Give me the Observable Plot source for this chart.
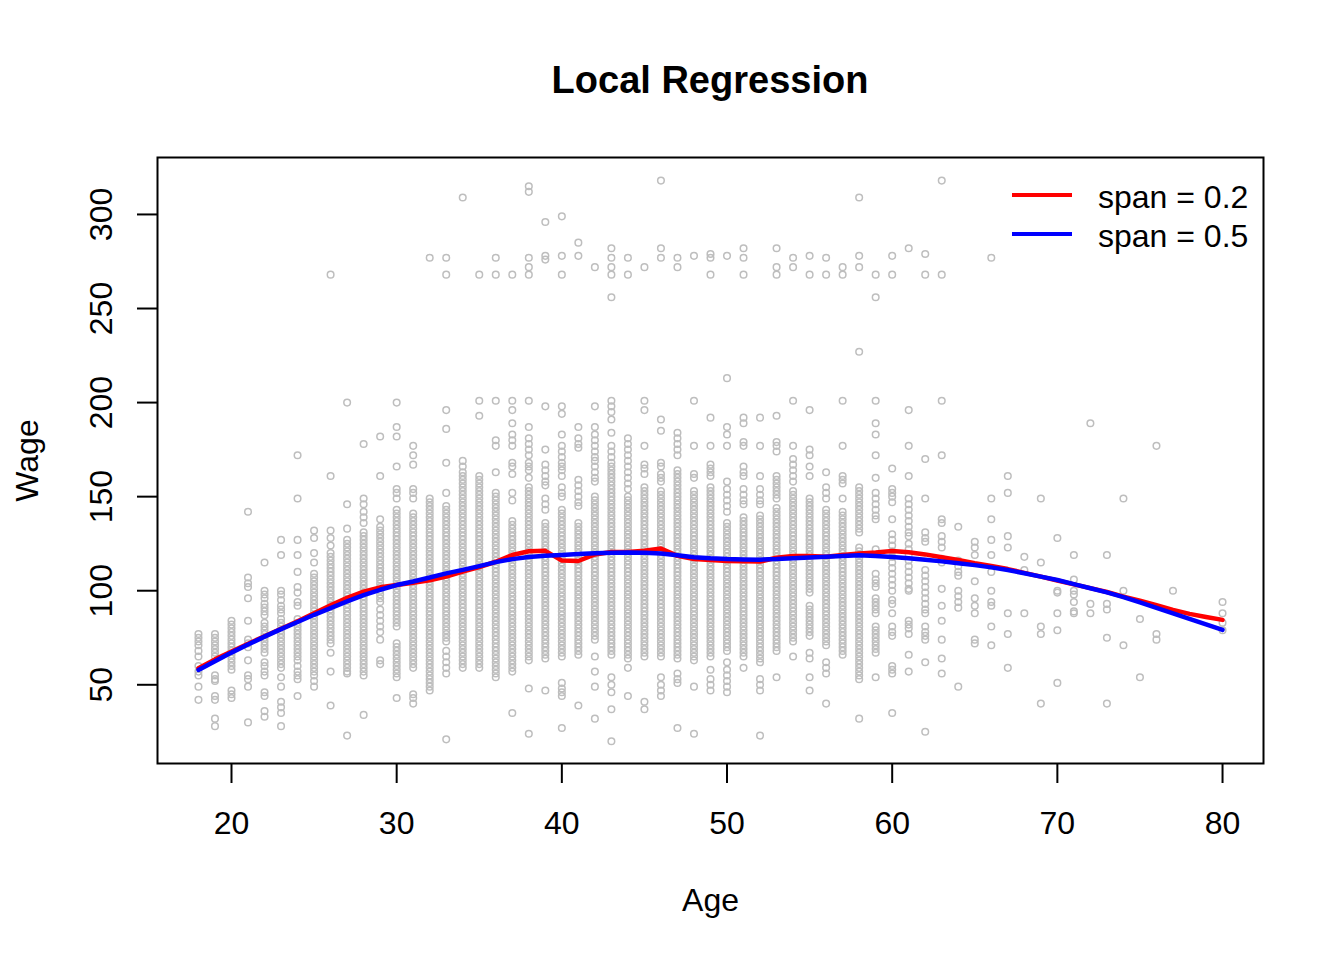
<!DOCTYPE html>
<html>
<head>
<meta charset="utf-8">
<script src="https://cdn.jsdelivr.net/npm/d3@7"></script>
<script src="https://cdn.jsdelivr.net/npm/@observablehq/plot@0.6"></script>
<style>
  body { margin: 0; background: #fff; }
  #wrap { position: relative; width: 1344px; height: 960px; font-family: Arial, "Liberation Sans", sans-serif; color: #000; }
  #title { position: absolute; left: 157px; width: 1106px; top: 57px; height: 46px; line-height: 46px; text-align: center; font-weight: bold; font-size: 38px; }
  #chart { position: absolute; left: 0; top: 120px; }
  .leg { position: absolute; left: 1012px; width: 300px; height: 40px; }
  .leg .sw { position: absolute; left: 0; top: 18px; width: 60px; height: 4px; }
  .leg .lb { position: absolute; left: 86px; top: 2px; height: 40px; line-height: 40px; font-size: 32px; white-space: nowrap; }
</style>
</head>
<body>
<div id="wrap">
  <div id="title">Local Regression</div>
  <div id="chart"></div>
  <div class="leg" style="top:175px"><div class="sw" style="background:red"></div><div class="lb">span = 0.2</div></div>
  <div class="leg" style="top:214px"><div class="sw" style="background:blue"></div><div class="lb">span = 0.5</div></div>
</div>
<script>
const xTicks = [20, 30, 40, 50, 60, 70, 80];
const yTicks = [50, 100, 150, 200, 250, 300];

const ages = [18,19,20,21,22,23,24,25,26,27,28,29,30,31,32,33,34,35,36,37,38,39,40,41,42,43,44,45,46,47,48,49,50,51,52,53,54,55,56,57,58,59,60,61,62,63,64,65,66,67,68,69,70,71,72,73,74,75,76,77,78,79,80];

const w18 = [77,75,73,71,68,65,60,57,55,49,42];
const w19 = [77,75,73,71,69,67,65,55,53,52,44,42,32,28];
const w20 = [84,82,80,78,76,74,72,70,68,66,64,62,60,58,47,45,43];
const w21 = [142,107,104,102,96,84,74,72,70,63,55,53,49,30];
const w22 = [115,100,98,96,93,91,89,87,83,81,79,77,75,73,71,69,67,62,60,57,55,46,44,36,33];
const w23 = [127,119,100,98,95,92,90,88,85,83,81,79,77,75,73,71,69,67,65,63,61,59,54,49,41,38,35,28];
const w24 = [172,149,127,119,110,102,99,94,92,85,83,81,79,77,75,73,71,69,67,65,63,60,57,55,53,44];
const w25 = [132,128,120,115,109,107,105,103,101,99,97,95,93,91,89,87,85,83,81,79,77,75,73,71,69,67,65,63,61,59,57,55,52,49];
const w26 = [268,161,132,128,124,120,118,116,114,112,110,108,106,104,102,100,98,96,94,92,90,88,86,84,82,80,78,76,74,72,67,57,39];
const w27 = [200,146,133,127,125,123,121,119,117,115,113,111,109,107,105,103,101,99,97,95,93,91,89,87,85,83,81,79,77,75,73,71,69,67,65,63,61,59,57,56,23];
const w28 = [178,149,146,142,139,136,131,129,127,125,123,121,119,117,115,113,111,109,107,105,103,101,99,97,95,93,91,89,87,85,83,81,79,77,75,73,71,69,67,65,63,61,59,57,55,34];
const w29 = [182,161,138,134,132,130,128,126,124,122,120,118,116,114,112,110,108,106,104,102,100,98,96,94,90,87,84,81,78,74,63,61];
const w30 = [200,187,182,166,154,152,149,143,141,139,137,135,133,131,129,127,125,123,121,119,117,115,113,111,109,107,105,103,101,99,97,95,93,91,89,87,85,83,81,72,70,68,66,64,62,60,58,56,54,43];
const w31 = [177,172,167,154,152,149,141,139,137,135,133,131,129,127,125,123,121,119,117,115,113,111,109,107,105,103,101,99,97,95,93,91,89,87,85,83,81,79,77,75,73,71,69,67,65,63,61,59,45,43,40];
const w32 = [277,149,147,145,143,141,139,137,135,133,131,129,127,125,123,121,119,117,115,113,111,109,107,105,103,101,99,97,95,93,91,89,87,85,83,81,79,77,75,73,71,69,67,65,63,61,59,57,55,53,51,49,47];
const w33 = [277,268,196,186,168,152,145,143,141,139,137,135,133,131,129,127,125,123,121,119,117,115,113,111,109,107,105,103,101,99,97,95,93,91,89,87,85,83,81,79,77,75,73,68,65,62,59,56,21];
const w34 = [309,169,166,163,161,159,157,155,153,151,149,147,145,143,141,139,137,135,133,131,129,127,125,123,121,119,117,115,113,111,109,107,105,103,101,99,97,95,93,91,89,87,85,83,81,79,77,75,73,71,69,67,65,63,61,59];
const w35 = [268,201,193,161,159,157,155,153,151,149,147,145,143,141,139,137,135,133,131,129,127,125,123,121,119,117,115,113,111,109,107,105,103,101,99,97,95,93,91,89,87,85,83,81,79,77,75,73,71,69,67,65,63,61,59];
const w36 = [277,268,201,180,177,163,152,150,148,146,144,142,140,138,136,134,132,130,128,126,124,122,120,118,116,114,112,110,108,106,104,102,100,98,96,94,92,90,88,86,84,82,80,78,76,74,72,70,68,66,64,62,60,58,56,54];
const w37 = [268,201,196,189,183,180,177,168,166,162,152,148,137,135,133,131,129,127,125,123,121,119,117,115,113,111,109,107,105,103,101,99,97,95,93,91,89,87,85,83,81,79,77,75,73,71,69,67,65,63,61,59,57,35];
const w38 = [315,312,277,272,268,201,187,181,178,175,172,168,166,164,160,155,153,151,149,147,145,143,141,139,137,135,133,131,129,127,125,123,121,119,117,115,113,111,109,107,105,103,101,99,97,95,93,91,89,87,85,83,81,79,77,75,73,71,69,67,65,63,48,24];
const w39 = [296,278,276,198,175,167,164,161,158,156,149,146,143,136,134,132,130,128,126,124,122,120,118,116,114,112,110,108,106,104,102,100,98,96,94,92,90,88,86,84,82,80,78,76,74,72,70,68,66,64,47];
const w40 = [299,278,268,198,194,183,177,174,171,168,166,164,161,155,152,150,143,141,139,137,135,133,131,129,127,125,123,121,119,117,115,113,111,109,107,105,103,101,99,97,95,93,91,89,87,85,83,81,79,77,75,73,71,69,67,65,51,48,46,44,27];
const w41 = [285,278,187,181,178,176,159,156,153,150,147,145,136,134,132,130,128,126,124,122,120,118,116,114,112,110,108,106,104,102,100,98,96,94,92,90,88,86,84,82,80,78,76,74,72,70,68,66,39];
const w42 = [272,198,187,183,180,177,174,171,169,166,163,160,158,150,148,146,144,142,140,138,136,134,132,130,128,126,124,122,120,118,116,114,112,110,108,106,104,102,100,98,96,94,92,90,88,86,84,82,80,78,76,74,65,57,49,32];
const w43 = [282,277,272,268,256,201,198,195,191,184,177,174,171,168,166,164,162,160,158,156,154,152,150,148,146,144,142,140,138,136,134,132,130,128,126,124,122,120,118,116,114,112,110,108,106,104,102,100,98,96,94,92,90,88,86,84,82,80,78,76,74,72,70,68,66,54,50,46,37,20];
const w44 = [277,268,181,178,175,172,169,166,163,160,157,154,150,148,146,144,142,140,138,136,134,132,130,128,126,124,122,120,118,116,114,112,110,108,106,104,102,100,98,96,94,92,90,88,86,84,82,80,78,76,74,72,70,68,66,64,59,44];
const w45 = [272,201,196,177,167,165,162,155,153,151,149,147,145,143,141,139,137,135,133,131,129,127,125,123,121,119,117,115,113,111,109,107,105,103,101,99,97,95,93,91,89,87,85,83,81,79,77,75,73,71,69,67,65,41,37];
const w46 = [318,282,277,191,185,168,166,162,160,158,153,151,149,147,145,143,141,139,137,135,133,131,129,127,125,123,121,119,117,115,113,111,109,107,105,103,101,99,97,95,93,91,89,87,85,83,81,79,77,75,73,71,69,67,65,54,50,47,44];
const w47 = [277,272,184,181,178,175,172,164,162,160,158,156,154,152,150,148,146,144,142,140,138,136,134,132,130,128,126,124,122,120,118,116,114,112,110,108,106,104,102,100,98,96,94,92,90,88,86,84,82,80,78,76,74,72,70,68,66,64,56,53,51,27];
const w48 = [278,201,177,162,160,153,151,149,147,145,143,141,139,137,135,133,131,129,127,125,123,121,119,117,115,113,111,109,107,105,103,101,99,97,95,93,91,89,87,85,83,81,79,77,75,73,71,69,67,65,63,49,24];
const w49 = [279,277,268,192,177,167,165,163,161,155,153,151,149,147,145,143,141,139,137,135,133,131,129,127,125,123,121,119,117,115,113,111,109,107,105,103,101,99,97,95,93,91,89,87,85,83,81,79,77,75,73,71,69,67,65,58,53,50,47];
const w50 = [278,213,187,183,177,158,154,151,148,145,142,136,134,132,130,128,126,124,122,120,118,116,114,112,110,108,106,104,102,100,98,96,94,92,90,88,86,84,82,80,78,76,74,72,70,68,62,58,55,52,49,46];
const w51 = [282,277,268,192,189,179,177,166,163,161,154,151,148,146,139,137,135,133,131,129,127,125,123,121,119,117,115,113,111,109,107,105,103,101,99,97,95,93,91,89,87,85,83,81,79,77,75,73,71,69,67,65,59];
const w52 = [192,177,161,154,151,148,146,140,138,136,134,132,130,128,126,124,122,120,118,116,114,112,110,108,106,104,102,100,98,96,94,92,90,88,86,84,82,80,78,76,74,72,70,68,66,64,62,53,50,47,23];
const w53 = [282,272,268,193,179,177,174,161,159,157,155,153,151,149,144,142,140,138,136,134,132,130,128,126,124,122,120,118,116,114,112,110,108,106,104,102,100,98,96,94,92,90,88,86,84,82,80,78,76,74,72,70,68,54];
const w54 = [277,272,201,177,170,167,164,161,158,153,151,149,147,145,143,141,139,137,135,133,131,129,127,125,123,121,119,117,115,113,111,109,107,105,103,101,99,97,95,93,91,89,87,85,83,81,79,77,75,73,65];
const w55 = [278,268,196,175,172,166,161,149,147,145,143,141,139,137,135,133,131,129,127,125,123,121,119,117,115,113,111,109,107,105,103,101,99,92,90,88,86,84,82,80,78,76,67,64,54,47];
const w56 = [277,268,163,155,152,149,143,141,139,137,135,133,131,129,127,125,123,121,119,117,115,113,111,109,107,105,103,101,99,97,95,93,91,89,87,85,83,81,79,77,75,73,71,62,59,56,40];
const w57 = [272,268,201,177,161,159,157,149,142,140,138,136,134,132,130,128,126,124,122,120,118,116,114,112,110,108,106,104,102,100,98,96,94,92,90,88,86,84,82,80,78,76,74,72,70,68,66];
const w58 = [309,278,272,227,155,153,151,149,147,145,143,141,139,137,135,133,131,123,121,119,117,115,113,111,109,107,105,103,101,99,97,95,93,91,89,87,85,83,81,79,77,75,73,71,69,67,65,63,61,59,57,55,53,32];
const w59 = [268,256,201,189,183,172,160,152,149,146,143,140,138,122,109,106,104,102,96,94,92,90,88,81,79,77,75,73,71,69,67,54];
const w60 = [278,268,165,154,152,150,147,138,130,127,124,121,118,115,112,109,106,103,100,95,93,88,81,78,76,60,58,56,35];
const w61 = [282,196,177,161,149,146,143,140,137,134,131,129,125,122,119,116,113,110,107,104,101,100,84,82,80,77,66,57];
const w62 = [279,268,170,149,131,128,126,111,108,105,102,99,96,93,90,88,81,78,76,74,62,25];
const w63 = [318,268,201,172,138,136,129,126,123,117,115,101,92,84,74,64,56];
const w64 = [134,116,113,110,108,100,97,94,91,49];
const w65 = [126,123,119,105,96,92,88,74,72];
const w66 = [277,149,138,127,119,110,100,94,92,81,71];
const w67 = [161,152,129,123,88,77,59];
const w68 = [118,111,88];
const w69 = [149,115,81,77,40];
const w70 = [128,100,99,88,79,51];
const w71 = [119,106,100,98,94,89,88];
const w72 = [189,93,88];
const w73 = [119,93,90,75,40];
const w74 = [149,100,71];
const w75 = [85,54];
const w76 = [177,77,74];
const w77 = [100];
const w78 = [];
const w79 = [];
const w80 = [94,88,83,79];

const wageCols = [w18,w19,w20,w21,w22,w23,w24,w25,w26,w27,w28,w29,w30,w31,w32,w33,w34,w35,w36,w37,w38,w39,w40,w41,w42,w43,w44,w45,w46,w47,w48,w49,w50,w51,w52,w53,w54,w55,w56,w57,w58,w59,w60,w61,w62,w63,w64,w65,w66,w67,w68,w69,w70,w71,w72,w73,w74,w75,w76,w77,w78,w79,w80];

// loess fits evaluated at each age
const fitSpan02 = [58.8,63.5,67.7,71.8,75.8,79.8,83.8,88.0,92.2,96.2,99.5,101.8,103.0,104.2,105.5,107.5,110.1,112.5,115.4,119.0,121.0,121.2,116.0,115.8,119.3,120.6,120.6,121.2,122.4,118.5,116.8,116.3,115.8,115.6,115.5,117.5,118.5,118.4,118.1,119.0,119.8,120.3,121.1,120.5,119.3,117.8,116.3,114.6,113.1,111.5,109.5,107.5,105.4,103.4,101.4,99.3,96.9,94.7,92.3,89.8,87.7,86.0,84.5];
const fitSpan05 = [57.9,62.5,67.1,71.4,75.6,79.6,83.4,87.2,90.7,94.3,97.7,100.5,103.0,104.9,107.0,109.2,111.1,113.1,115.2,116.8,117.9,118.6,119.0,119.5,119.9,120.2,120.3,120.2,119.8,118.8,117.8,117.2,116.8,116.6,116.5,116.8,117.3,117.7,118.1,118.5,118.8,118.5,117.9,117.3,116.5,115.6,114.6,113.6,112.4,111.0,109.3,107.5,105.7,103.5,101.3,99.1,96.6,93.8,90.9,88.0,85.0,82.1,79.2];

const points = ages.flatMap((a, i) => wageCols[i].map(w => ({age: a, wage: w})));
const fits = ages.map((a, i) => ({age: a, s02: fitSpan02[i], s05: fitSpan05[i]}));

const chart = Plot.plot({
  width: 1344,
  height: 840,
  marginLeft: 157,
  marginRight: 81,
  marginTop: 37,
  marginBottom: 197,
  x: {type: "linear", domain: [15.52, 82.48]},
  y: {type: "linear", domain: [8.16, 330.27]},
  style: {fontFamily: "Arial, 'Liberation Sans', sans-serif", fontSize: "32px", background: "white", color: "black", overflow: "visible"},
  marks: [
    Plot.dot(points, {x: "age", y: "wage", r: 3.3, stroke: "#bebebe", strokeWidth: 1.5, fill: "none"}),
    Plot.line(fits, {x: "age", y: "s02", stroke: "red", strokeWidth: 4.5}),
    Plot.line(fits, {x: "age", y: "s05", stroke: "blue", strokeWidth: 4.5}),
    Plot.frame({stroke: "black", strokeWidth: 2}),
    Plot.axisX({ticks: xTicks, tickSize: 20, tickPadding: 28, tickFormat: d => String(d), label: null, fontSize: 32, strokeWidth: 2}),
    Plot.axisY({ticks: yTicks, tickSize: 20, tickFormat: () => "", label: null, strokeWidth: 2}),
    Plot.text(yTicks, {y: d => d, text: d => String(d), frameAnchor: "left", textAnchor: "middle", dx: -56, rotate: -90, fontSize: 32}),
    Plot.text(["Age"], {frameAnchor: "bottom", dy: 147, text: d => d, fontSize: 32}),
    Plot.text(["Wage"], {frameAnchor: "left", textAnchor: "middle", dx: -130, rotate: -90, text: d => d, fontSize: 32})
  ]
});
document.getElementById("chart").appendChild(chart);
</script>
</body>
</html>
